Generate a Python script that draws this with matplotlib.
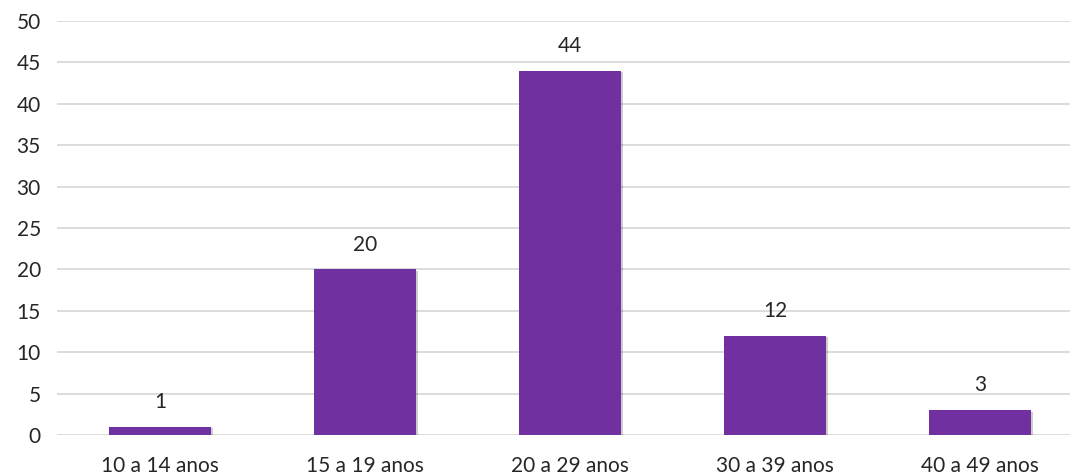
import matplotlib
matplotlib.use('Agg')
import matplotlib.pyplot as plt
import matplotlib.patheffects as pe

# faixas etarias e contagens
categories = ['10 a 14 anos', '15 a 19 anos', '20 a 29 anos', '30 a 39 anos', '40 a 49 anos']
values = [1, 20, 44, 12, 3]

plt.rcParams['font.family'] = ['Lato', 'DejaVu Sans']

fig = plt.figure(figsize=(10.7, 4.76), dpi=100)
ax = fig.add_axes([0.0537, 0.086, 0.958, 0.87])

x = range(len(categories))
bars = ax.bar(x, values, width=0.5, color='#7030A0', zorder=3,
              path_effects=[pe.SimplePatchShadow(offset=(1.2, -1.2), alpha=0.2, shadow_rgbFace='black'), pe.Normal()])

for xi, v in zip(x, values):
    ax.text(xi, v + 1.8, str(v), ha='center', va='bottom', fontsize=15, color='#262626')

ax.set_xlim(-0.5, len(categories) - 0.5)
ax.set_ylim(0, 50)
ax.set_yticks(range(0, 51, 5))
ax.set_xticks(list(x))
ax.set_xticklabels(categories)
ax.yaxis.grid(True, color='#d9d9d9', linewidth=1.3, zorder=0)
ax.set_axisbelow(True)
for s in ax.spines.values():
    s.set_visible(False)
ax.tick_params(axis='both', length=0, labelsize=15, labelcolor='#262626')
ax.tick_params(axis='y', pad=12)
ax.tick_params(axis='x', pad=15)

fig.savefig('out.png', dpi=100)
